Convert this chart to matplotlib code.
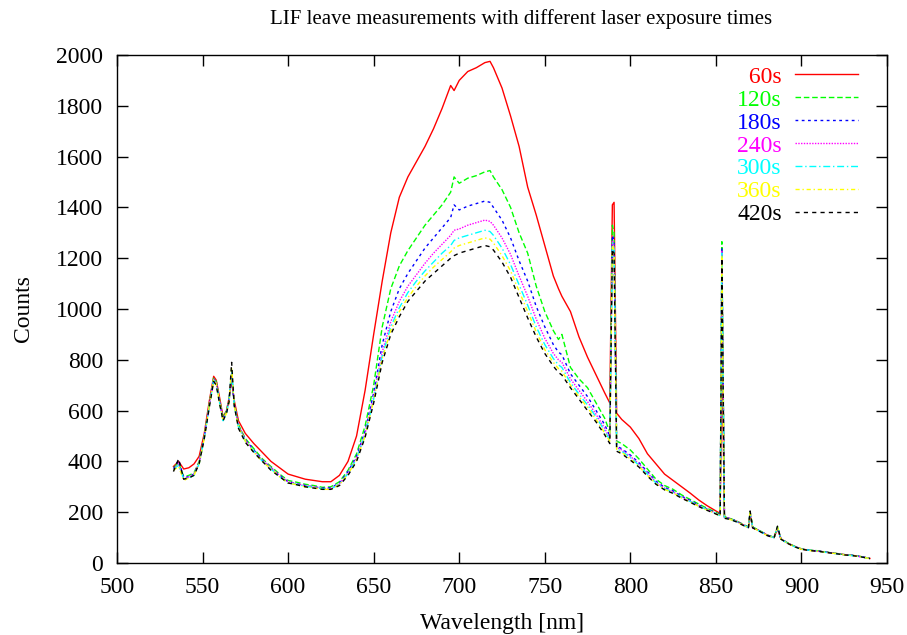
import matplotlib
matplotlib.use("Agg")
import matplotlib.pyplot as plt

# ---------------- data ----------------
wavelength = [533, 536, 539, 542, 545, 548, 551, 554, 556.5, 558, 560, 562, 564, 565.5, 567,
              568.5, 571, 575, 580, 585, 590, 595, 600, 605, 610, 615, 620, 625, 630, 635,
              640, 645, 650, 655, 660, 665, 670, 675, 680, 685, 690, 695, 697, 700, 705,
              710, 715, 718, 720, 725, 730, 735, 740, 745, 750, 755, 758, 760, 765, 770,
              775, 780, 785, 788, 789.5, 790.5, 792, 795, 800, 805, 810, 815, 820, 825, 830,
              835, 840, 845, 850, 852.5, 853.5, 855, 858, 862, 866, 869, 870, 871.5, 876, 880,
              884, 886, 888, 892, 896, 900, 905, 910, 915, 920, 925, 930, 935, 940]

s60 = [380, 400, 370, 375, 390, 420, 510, 640, 735, 720, 650, 575, 600, 650, 720,
       640, 560, 510, 470, 435, 400, 375, 350, 340, 330, 325, 320, 320, 345, 400,
       500, 680, 900, 1110, 1300, 1440, 1520, 1580, 1640, 1710, 1790, 1880, 1860, 1900, 1935,
       1950, 1970, 1975, 1950, 1870, 1760, 1640, 1480, 1370, 1250, 1130, 1080, 1050, 990, 890,
       810, 740, 670, 630, 1410, 1420, 590, 565, 535, 490, 430, 390, 350, 325, 300,
       275, 248, 225, 205, 195, 860, 180, 175, 165, 150, 140, 190, 140, 125, 110,
       100, 135, 95, 78, 65, 55, 50, 47, 42, 38, 33, 30, 25, 18]

s120 = [375, 395, 340, 345, 355, 400, 500, 630, 730, 715, 640, 570, 600, 645, 740,
        630, 545, 490, 450, 410, 380, 350, 325, 318, 310, 305, 298, 300, 320, 365,
        430, 540, 700, 930, 1080, 1170, 1230, 1280, 1330, 1370, 1410, 1460, 1520, 1495, 1515,
        1525, 1540, 1545, 1520, 1470, 1400, 1300, 1220, 1090, 990, 915, 880, 900, 770, 725,
        690, 630, 570, 515, 1330, 1300, 480, 470, 445, 410, 370, 330, 305, 290, 268,
        250, 232, 215, 200, 190, 1265, 182, 176, 166, 152, 142, 200, 142, 126, 110,
        102, 140, 96, 79, 66, 56, 51, 48, 43, 38, 33, 30, 25, 18]

s180 = [370, 405, 335, 340, 350, 395, 495, 625, 725, 710, 635, 565, 595, 640, 730,
        625, 540, 485, 445, 405, 375, 345, 320, 312, 305, 300, 295, 296, 315, 360,
        420, 520, 670, 860, 990, 1080, 1140, 1190, 1240, 1280, 1320, 1360, 1410, 1390, 1405,
        1415, 1425, 1420, 1400, 1350, 1280, 1190, 1110, 1010, 930, 860, 830, 820, 745, 700,
        655, 600, 545, 500, 1290, 1270, 460, 450, 425, 395, 360, 322, 298, 284, 263,
        246, 228, 212, 197, 188, 1240, 180, 175, 165, 150, 141, 195, 140, 125, 110,
        100, 138, 95, 78, 65, 55, 50, 47, 42, 38, 33, 30, 25, 18]

s240 = [372, 390, 330, 340, 350, 395, 495, 625, 725, 710, 635, 565, 595, 640, 750,
        625, 540, 485, 440, 405, 375, 345, 320, 312, 305, 300, 293, 294, 312, 355,
        415, 510, 655, 830, 950, 1030, 1090, 1135, 1180, 1220, 1255, 1290, 1310, 1315, 1330,
        1340, 1350, 1345, 1330, 1280, 1215, 1130, 1050, 960, 885, 825, 800, 790, 725, 680,
        635, 585, 530, 490, 1270, 1250, 455, 445, 420, 390, 355, 318, 295, 280, 260,
        244, 226, 210, 196, 187, 1230, 178, 174, 164, 150, 140, 198, 140, 124, 109,
        100, 140, 95, 78, 65, 55, 50, 46, 42, 37, 33, 29, 24, 18]

s300 = [368, 385, 330, 335, 345, 390, 490, 620, 720, 705, 630, 560, 590, 640, 760,
        620, 535, 480, 440, 400, 370, 340, 315, 310, 302, 298, 292, 292, 310, 352,
        410, 505, 645, 815, 930, 1005, 1065, 1110, 1150, 1185, 1220, 1250, 1270, 1280, 1290,
        1300, 1310, 1305, 1290, 1240, 1175, 1095, 1015, 930, 860, 805, 780, 770, 710, 665,
        622, 575, 520, 485, 1260, 1240, 450, 440, 415, 385, 350, 315, 292, 278, 258,
        242, 225, 209, 195, 186, 1220, 178, 173, 163, 149, 140, 200, 139, 124, 108,
        100, 142, 94, 77, 64, 54, 50, 46, 41, 37, 32, 29, 24, 17]

s360 = [365, 380, 325, 335, 345, 390, 490, 620, 720, 705, 630, 560, 590, 635, 770,
        620, 535, 480, 435, 400, 370, 340, 315, 308, 300, 296, 290, 290, 308, 350,
        405, 500, 640, 805, 915, 990, 1045, 1090, 1130, 1165, 1195, 1225, 1240, 1250, 1260,
        1270, 1280, 1275, 1260, 1210, 1150, 1070, 990, 910, 840, 790, 765, 755, 700, 655,
        612, 565, 512, 480, 1250, 1230, 445, 435, 410, 380, 345, 312, 290, 276, 256,
        240, 223, 208, 194, 185, 1210, 177, 172, 163, 148, 139, 202, 139, 123, 108,
        99, 143, 94, 77, 64, 54, 49, 46, 41, 37, 32, 29, 24, 17]

s420 = [360, 410, 330, 335, 345, 390, 490, 615, 715, 700, 625, 560, 590, 635, 790,
        620, 530, 475, 435, 400, 365, 340, 315, 308, 300, 295, 290, 290, 305, 345,
        400, 495, 630, 790, 900, 970, 1030, 1070, 1110, 1140, 1170, 1200, 1210, 1220, 1230,
        1240, 1250, 1245, 1232, 1185, 1125, 1045, 965, 890, 825, 775, 750, 740, 690, 645,
        600, 555, 505, 470, 1235, 1220, 440, 430, 405, 378, 342, 310, 288, 274, 255,
        239, 222, 207, 193, 185, 1200, 176, 172, 162, 148, 139, 205, 138, 123, 108,
        99, 145, 94, 77, 64, 54, 49, 46, 41, 37, 32, 29, 24, 17]

series_labels = ["60s", "120s", "180s", "240s", "300s", "360s", "420s"]
series_values = [s60, s120, s180, s240, s300, s360, s420]

x_ticks = [500, 550, 600, 650, 700, 750, 800, 850, 900, 950]
y_ticks = [0, 200, 400, 600, 800, 1000, 1200, 1400, 1600, 1800, 2000]

# ---------------- styling ----------------
colors = ["#ff0000", "#00ff00", "#0000ff", "#ff00ff", "#00ffff", "#ffff00", "#000000"]
dashes = [None, (4, 2), (2, 2.5), (1, 1), (5, 2, 1, 2), (3, 2, 1, 2), (3, 3)]

serif = ["Liberation Serif", "DejaVu Serif"]
plt.rcParams["font.family"] = serif
plt.rcParams["font.size"] = 17

fig = plt.figure(figsize=(9.07, 6.35), dpi=100)
ax = fig.add_axes([117 / 907, 1 - 563 / 635, (887 - 117) / 907, (563 - 55) / 635])

for lab, vals, col, dsh in zip(series_labels, series_values, colors, dashes):
    disp = lab if len(lab) == 4 else "\u2007" + lab
    line, = ax.plot(wavelength, vals, color=col, lw=1.0, label=disp)
    if dsh is not None:
        line.set_dashes(dsh)

ax.set_xlim(500, 950)
ax.set_ylim(0, 2000)
ax.set_xticks(x_ticks)
ax.set_yticks(y_ticks)
ax.tick_params(direction="in", length=8, width=1, top=True, right=True, labelsize=17)
ax.tick_params(axis="x", pad=10)
ax.tick_params(axis="y", pad=10)
for sp in ax.spines.values():
    sp.set_linewidth(1.0)

ax.set_title("LIF leave measurements with different laser exposure times",
             fontsize=15, pad=22, x=0.525)
ax.set_xlabel("Wavelength [nm]", fontsize=17, labelpad=11)
ax.set_ylabel("Counts", fontsize=17, labelpad=16)

leg = ax.legend(loc="upper right", bbox_to_anchor=(0.962, 0.978), markerfirst=False,
                frameon=False, handlelength=2.67, handletextpad=0.55, labelspacing=0.06,
                borderpad=0, borderaxespad=0, labelcolor="linecolor", fontsize=17)

fig.savefig("out.png", dpi=100)
